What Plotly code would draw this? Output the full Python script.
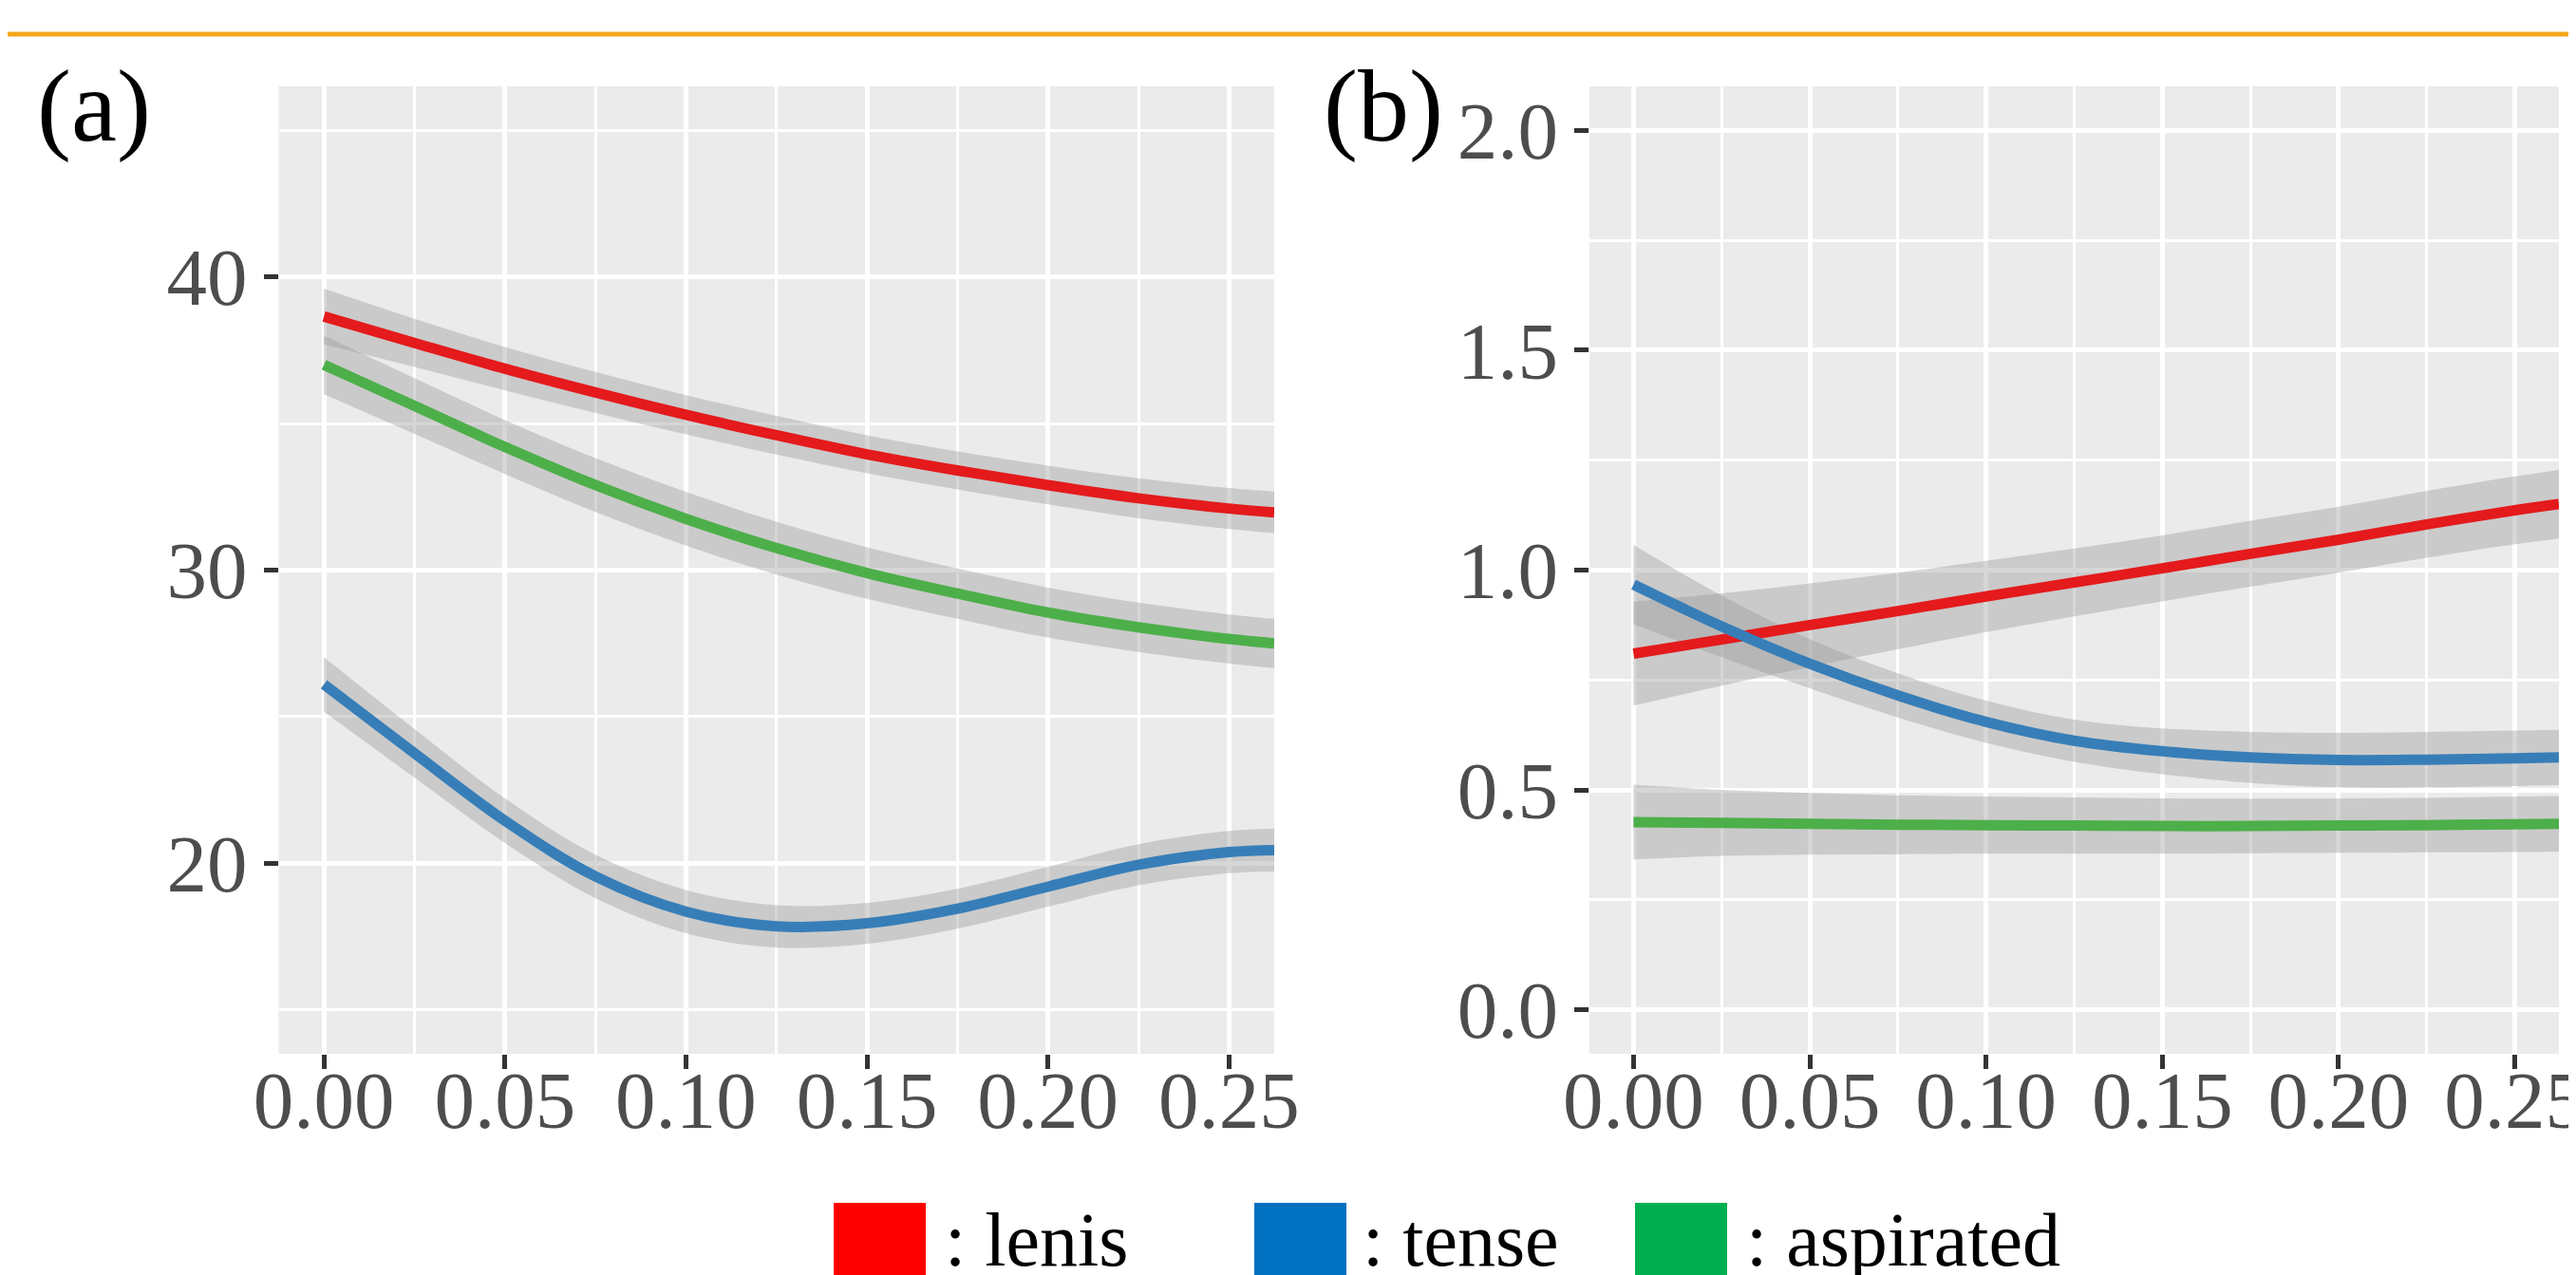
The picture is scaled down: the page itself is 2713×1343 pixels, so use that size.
import plotly.graph_objects as go

# ---------------- data ----------------
X = [0, 0.025, 0.05, 0.075, 0.1, 0.125, 0.15, 0.175, 0.2, 0.225, 0.25, 0.2625]

# panel (a)
a_lenis = [38.65, 37.75, 36.87, 36.06, 35.30, 34.60, 33.95, 33.40, 32.90, 32.45, 32.10, 31.97]
a_lenis_se = [0.95, 0.82, 0.74, 0.70, 0.67, 0.66, 0.65, 0.65, 0.66, 0.68, 0.70, 0.71]
a_tense = [26.10, 23.75, 21.45, 19.55, 18.35, 17.85, 17.95, 18.45, 19.20, 19.95, 20.38, 20.45]
a_tense_se = [0.93, 0.83, 0.76, 0.74, 0.74, 0.72, 0.70, 0.68, 0.68, 0.70, 0.72, 0.73]
a_asp = [37.00, 35.60, 34.20, 32.90, 31.75, 30.75, 29.90, 29.20, 28.55, 28.05, 27.65, 27.50]
a_asp_se = [1.00, 0.95, 0.92, 0.92, 0.92, 0.90, 0.88, 0.86, 0.85, 0.84, 0.84, 0.84]

# panel (b)
b_lenis = [0.810, 0.842, 0.875, 0.907, 0.940, 0.972, 1.004, 1.037, 1.069, 1.104, 1.136, 1.150]
b_lenis_se = [0.118, 0.105, 0.095, 0.087, 0.081, 0.077, 0.075, 0.075, 0.075, 0.076, 0.077, 0.078]
b_tense = [0.967, 0.872, 0.787, 0.715, 0.655, 0.612, 0.588, 0.574, 0.568, 0.569, 0.572, 0.574]
b_tense_se = [0.090, 0.070, 0.056, 0.050, 0.048, 0.048, 0.052, 0.058, 0.062, 0.063, 0.063, 0.063]
b_asp = [0.427, 0.425, 0.423, 0.421, 0.420, 0.419, 0.418, 0.418, 0.419, 0.420, 0.422, 0.423]
b_asp_se = [0.085, 0.075, 0.070, 0.067, 0.065, 0.064, 0.063, 0.062, 0.062, 0.062, 0.063, 0.063]

series_names = ["lenis", "tense", "aspirated"]
line_colors = ["#E41A1C", "#377EB8", "#4DAF4A"]
legend_colors = ["#FF0000", "#0070C0", "#00B050"]
legend_labels = [": lenis", ": tense", ": aspirated"]

x_ticks = [0, 0.05, 0.10, 0.15, 0.20, 0.25]
x_ticklabels = ["0.00", "0.05", "0.10", "0.15", "0.20", "0.25"]
x_minor = [0.025, 0.075, 0.125, 0.175, 0.225]
a_yticks = [20, 30, 40]
a_yminor = [15, 25, 35, 45]
b_yticks = [0.0, 0.5, 1.0, 1.5, 2.0]
b_yticklabels = ["0.0", "0.5", "1.0", "1.5", "2.0"]
b_yminor = [0.25, 0.75, 1.25, 1.75]

panel_labels = ["(a)", "(b)"]

# ---------------- figure ----------------
W, H = 2713, 1343
fig = go.Figure()

panels = [
    ("x", "y", [a_lenis, a_tense, a_asp], [a_lenis_se, a_tense_se, a_asp_se]),
    ("x2", "y2", [b_lenis, b_tense, b_asp], [b_lenis_se, b_tense_se, b_asp_se]),
]

band_fill = "rgba(153,153,153,0.4)"
for xa, ya, fits, ses in panels:
    for fit, se in zip(fits, ses):
        lo = [f - s for f, s in zip(fit, se)]
        hi = [f + s for f, s in zip(fit, se)]
        fig.add_trace(go.Scatter(x=X, y=lo, mode="lines", line=dict(width=0, shape="spline"),
                                 xaxis=xa, yaxis=ya, showlegend=False, hoverinfo="skip"))
        fig.add_trace(go.Scatter(x=X, y=hi, mode="lines", line=dict(width=0, shape="spline"),
                                 fill="tonexty", fillcolor=band_fill,
                                 xaxis=xa, yaxis=ya, showlegend=False, hoverinfo="skip"))
    for fit, name, col in zip(fits, series_names, line_colors):
        fig.add_trace(go.Scatter(x=X, y=fit, mode="lines", name=name,
                                 line=dict(color=col, width=11, shape="spline"),
                                 xaxis=xa, yaxis=ya, showlegend=False))

tick_font = dict(family="Liberation Serif, Times New Roman, serif", size=85, color="#4D4D4D")
common_axis = dict(showgrid=True, gridcolor="white", gridwidth=4.7, zeroline=False, showline=False,
                   ticks="outside", ticklen=15, tickwidth=4.7, tickcolor="#333333",
                   tickfont=tick_font, fixedrange=True, automargin=False,
                   ticklabeloverflow="allow")

ydom = [(H - 1102) / H, (H - 83) / H]
xminor = dict(tickmode="array", tickvals=x_minor, showgrid=True, gridcolor="white",
              gridwidth=2.7, ticks="")
fig.update_layout(
    width=W, height=H, margin=dict(l=0, r=0, t=0, b=0, pad=0),
    paper_bgcolor="white", plot_bgcolor="#EBEBEB", showlegend=False,
    xaxis=dict(domain=[285.5 / W, 1334 / W], range=[-0.0125, 0.2625], anchor="y",
               tickmode="array", tickvals=x_ticks, ticktext=x_ticklabels,
               ticklabelstandoff=-40, minor=xminor, **common_axis),
    yaxis=dict(domain=ydom, range=[13.5, 46.5], anchor="x",
               tickmode="array", tickvals=a_yticks, ticktext=[str(v) for v in a_yticks],
               minor=dict(tickmode="array", tickvals=a_yminor, showgrid=True, gridcolor="white",
                          gridwidth=2.7, ticks=""), **common_axis),
    xaxis2=dict(domain=[1666 / W, 2687 / W], range=[-0.0125, 0.2625], anchor="y2",
                tickmode="array", tickvals=x_ticks, ticktext=x_ticklabels,
                ticklabelstandoff=-40, minor=xminor, **common_axis),
    yaxis2=dict(domain=ydom, range=[-0.1, 2.1], anchor="x2",
                tickmode="array", tickvals=b_yticks, ticktext=b_yticklabels,
                minor=dict(tickmode="array", tickvals=b_yminor, showgrid=True, gridcolor="white",
                           gridwidth=2.7, ticks=""), **common_axis),
)

# orange rule on top
fig.add_shape(type="line", xref="paper", yref="paper", x0=0, x1=1,
              y0=1 - 28 / H, y1=1 - 28 / H, line=dict(color="#F4A81D", width=5))

# panel letters
for lab, xpx in zip(panel_labels, [29, 1384]):
    fig.add_annotation(text=lab, xref="paper", yref="paper", x=xpx / W, y=1 - 104 / H,
                       xanchor="left", yanchor="middle", showarrow=False,
                       font=dict(family="Liberation Serif, Times New Roman, serif", size=108, color="black"))

# legend (squares + labels)
sq_left = [870, 1313, 1714]
txt_left = [985, 1425, 1829]
for col, lab, sx, tx in zip(legend_colors, legend_labels, sq_left, txt_left):
    fig.add_shape(type="rect", xref="paper", yref="paper", x0=sx / W, x1=(sx + 97) / W,
                  y0=1 - 1356 / H, y1=1 - 1259 / H, line=dict(width=0), fillcolor=col)
    fig.add_annotation(text=lab, xref="paper", yref="paper", x=tx / W, y=1 - 1298 / H,
                       xanchor="left", yanchor="middle", showarrow=False,
                       font=dict(family="Liberation Serif, Times New Roman, serif", size=80, color="black"))

fig.write_html("out.html")
